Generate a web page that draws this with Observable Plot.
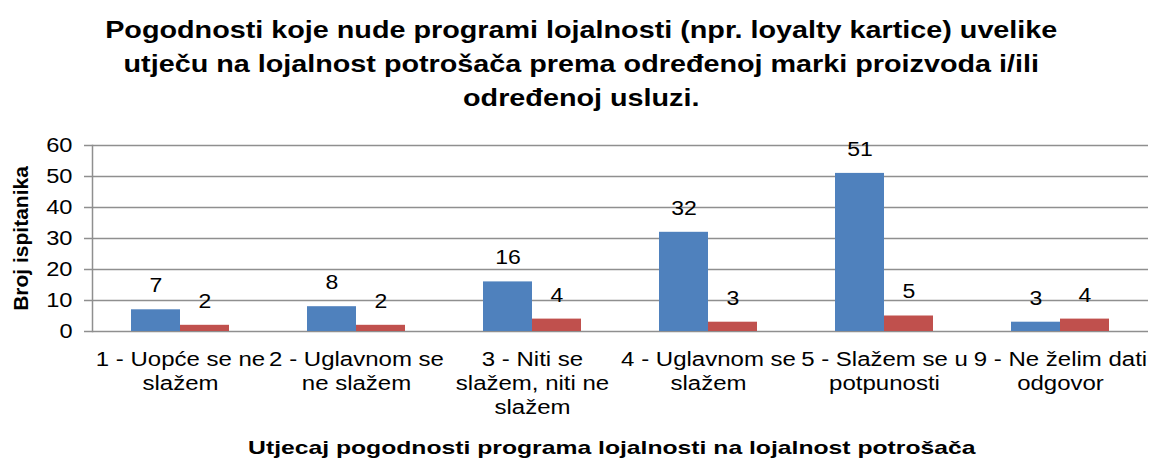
<!DOCTYPE html>
<html><head><meta charset="utf-8">
<script src="https://cdn.jsdelivr.net/npm/d3@7"></script>
<script src="https://cdn.jsdelivr.net/npm/@observablehq/plot@0.6"></script>
<style>
body{margin:0;background:#fff;font-family:"Liberation Sans",Arial,sans-serif;color:#000;}
#title{width:1164px;text-align:center;font-weight:bold;font-size:23px;line-height:34px;padding-top:13px;height:118px;box-sizing:border-box;transform:scaleX(1.25);transform-origin:585px 0;}
#xtitle{width:1164px;box-sizing:border-box;padding-left:60px;text-align:center;font-weight:bold;font-size:19px;line-height:40px;}
#xtitle span{display:inline-block;transform:scaleX(1.3);}
#chart svg{display:block;}
</style></head><body>
<div id="title">Pogodnosti koje nude programi lojalnosti (npr. loyalty kartice) uvelike<br>utječu na lojalnost potrošača prema određenoj marki proizvoda i/ili<br>određenoj usluzi.</div>
<div id="chart"></div>
<div id="xtitle"><span>Utjecaj pogodnosti programa lojalnosti na lojalnost potrošača</span></div>
<script>
const categories = [
  "1 - Uopće se ne\nslažem",
  "2 - Uglavnom se\nne slažem",
  "3 - Niti se\nslažem, niti ne\nslažem",
  "4 - Uglavnom se\nslažem",
  "5 - Slažem se u\npotpunosti",
  "9 - Ne želim dati\nodgovor"
];
const seriesNames = ["A", "B"];
const seriesA = [7, 8, 16, 32, 51, 3];
const seriesB = [2, 2, 4, 3, 5, 4];
const yTicks = [0, 10, 20, 30, 40, 50, 60];
const yLabel = "Broj ispitanika";
const colors = ["#4F81BD", "#C0504D"];

const data = categories.flatMap((c, i) => [
  {cat: c, s: seriesNames[0], v: seriesA[i]},
  {cat: c, s: seriesNames[1], v: seriesB[i]}
]);

const chart = Plot.plot({
  width: 1164,
  height: 310,
  marginTop: 27,
  marginBottom: 97,
  marginLeft: 90,
  marginRight: 14,
  style: {fontFamily: "Liberation Sans, Arial, sans-serif", color: "black", background: "white"},
  fx: {domain: categories, padding: 0, label: null},
  x: {domain: seriesNames, paddingInner: 0, paddingOuter: 0.767, axis: null},
  y: {domain: [0, 60], label: null},
  color: {domain: seriesNames, range: colors},
  marks: [
    Plot.ruleY(yTicks, {stroke: "#8f8f8f", strokeWidth: 1.5}),
    Plot.frame({anchor: "left", facetAnchor: "left", stroke: "#8f8f8f", strokeWidth: 1.5}),
    Plot.barY(data, {fx: "cat", x: "s", y: "v", fill: "s"}),
    Plot.text(data, {fx: "cat", x: "s", y: "v", text: d => String(d.v), dy: -24, fontSize: 20, fill: "black"}),
    Plot.axisY({ticks: yTicks, tickSize: 8, tickPadding: 12, stroke: "#8f8f8f", strokeWidth: 1.5, fontSize: 20, label: null}),
    Plot.axisY({ticks: [], label: yLabel, labelAnchor: "center", labelOffset: 79, labelArrow: false, fontSize: 21, fontWeight: "bold"}),
    Plot.axisFx({anchor: "bottom", tickSize: 0, tickPadding: 17, fontSize: 20, lineHeight: 1.2, lineAnchor: "top", label: null})
  ]
});
document.getElementById("chart").appendChild(chart);

// widen glyphs horizontally like the reference rendering
function stretch(selector, k) {
  chart.querySelectorAll(selector).forEach(t => {
    const parts = t.querySelectorAll("tspan");
    const els = parts.length ? Array.from(parts) : [t];
    els.forEach(e => {
      const L = e.getComputedTextLength();
      if (L > 0) {
        e.setAttribute("textLength", (L * k).toFixed(1));
        e.setAttribute("lengthAdjust", "spacingAndGlyphs");
      }
    });
  });
}
stretch('g[aria-label="fx-axis tick label"] text', 1.2);
stretch('g[aria-label="y-axis tick label"] text', 1.18);
stretch('g[aria-label="text"] text', 1.15);
</script>
</body></html>
